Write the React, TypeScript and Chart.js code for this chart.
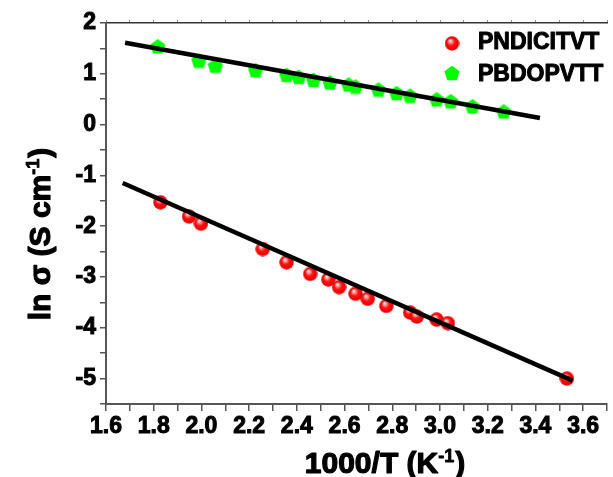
import { useEffect, useRef } from 'react';
import { Chart, registerables } from 'chart.js';

Chart.register(...registerables);

// ---- Data ----
const redLabel = 'PNDICITVT';
const redX = [1.828, 1.948, 1.998, 2.257, 2.357, 2.456, 2.532, 2.577, 2.646, 2.697, 2.775, 2.875, 2.903, 2.986, 3.033, 3.532];
const redY = [-1.53, -1.81, -1.95, -2.45, -2.71, -2.94, -3.05, -3.2, -3.33, -3.43, -3.57, -3.7, -3.78, -3.84, -3.91, -5.0];
const redFitX = [1.67, 3.556];
const redFitY = [-1.15, -5.04];

const greenLabel = 'PBDOPVTT';
const greenX = [1.817, 1.989, 2.058, 2.227, 2.357, 2.408, 2.47, 2.539, 2.617, 2.646, 2.742, 2.818, 2.875, 2.986, 3.045, 3.136, 3.267];
const greenY = [1.54, 1.26, 1.16, 1.07, 0.98, 0.94, 0.88, 0.83, 0.79, 0.75, 0.69, 0.62, 0.57, 0.5, 0.46, 0.36, 0.26];
const greenFitX = [1.68, 3.419];
const greenFitY = [1.61, 0.13];

const xMin = 1.6;
const xMax = 3.7;
const xStep = 0.1;
const yMin = -5.5;
const yMax = 2;
const yStep = 0.5;

const xTitleMain = '1000/T (K';
const xTitleSup = '-1';
const xTitleEnd = ')';
const yTitleMain = 'ln σ (S cm';
const yTitleSup = '-1';
const yTitleEnd = ')';

const FONT = '"Liberation Sans", Arial, sans-serif';

function makeSphere(d: number): HTMLCanvasElement {
  const c = document.createElement('canvas');
  c.width = d;
  c.height = d;
  const ctx = c.getContext('2d')!;
  const r = d / 2;
  const g = ctx.createRadialGradient(r - 2, r - 3, 0, r, r, r);
  g.addColorStop(0, '#ffffff');
  g.addColorStop(0.22, '#ff9a9a');
  g.addColorStop(0.5, '#ff1010');
  g.addColorStop(1, '#e00000');
  ctx.fillStyle = g;
  ctx.beginPath();
  ctx.arc(r, r, r - 0.3, 0, Math.PI * 2);
  ctx.fill();
  return c;
}

function makePentagon(d: number): HTMLCanvasElement {
  const c = document.createElement('canvas');
  c.width = d;
  c.height = d;
  const ctx = c.getContext('2d')!;
  const cx = d / 2;
  const cy = d / 2 + 0.8;
  const r = d / 2;
  ctx.fillStyle = '#00ff00';
  ctx.beginPath();
  for (let i = 0; i < 5; i++) {
    const a = -Math.PI / 2 + (i * 2 * Math.PI) / 5;
    const px = cx + r * Math.cos(a);
    const py = cy + r * Math.sin(a);
    if (i === 0) ctx.moveTo(px, py);
    else ctx.lineTo(px, py);
  }
  ctx.closePath();
  ctx.fill();
  return c;
}

function heavyText(ctx: CanvasRenderingContext2D, t: string, x: number, y: number, sw: number) {
  ctx.lineWidth = sw;
  ctx.strokeStyle = '#000';
  ctx.lineJoin = 'round';
  ctx.strokeText(t, x, y);
  ctx.fillText(t, x, y);
}

function drawTitle(ctx: CanvasRenderingContext2D, main: string, sup: string, end: string) {
  const big = `bold 30px ${FONT}`;
  const small = `bold 18px ${FONT}`;
  ctx.font = big;
  const w1 = ctx.measureText(main).width;
  const w3 = ctx.measureText(end).width;
  ctx.font = small;
  const w2 = ctx.measureText(sup).width;
  const total = w1 + w2 + w3 + 1;
  let x = -total / 2;
  ctx.textBaseline = 'alphabetic';
  ctx.textAlign = 'left';
  ctx.fillStyle = '#000';
  ctx.font = big;
  heavyText(ctx, main, x, 0, 1.2);
  x += w1;
  ctx.font = small;
  heavyText(ctx, sup, x, -11, 0.8);
  x += w2 + 1;
  ctx.font = big;
  heavyText(ctx, end, x, 0, 1.2);
}

const titlesPlugin = {
  id: 'axisTitles',
  afterDraw(chart: any) {
    const ctx = chart.ctx as CanvasRenderingContext2D;
    ctx.save();
    ctx.translate(385, 473);
    drawTitle(ctx, xTitleMain, xTitleSup, xTitleEnd);
    ctx.restore();
    ctx.save();
    ctx.translate(50, 234);
    ctx.rotate(-Math.PI / 2);
    drawTitle(ctx, yTitleMain, yTitleSup, yTitleEnd);
    ctx.restore();
  },
};

const legendPlugin = {
  id: 'insideLegend',
  afterDraw(chart: any) {
    const ctx = chart.ctx as CanvasRenderingContext2D;
    const items = chart.data.datasets.filter((d: any) => d.inLegend);
    ctx.save();
    ctx.font = `bold 23px ${FONT}`;
    ctx.fillStyle = '#000';
    ctx.textAlign = 'left';
    ctx.textBaseline = 'alphabetic';
    items.forEach((d: any, i: number) => {
      const cy = 43.5 + i * 29.5;
      const img = d.pointStyle as HTMLCanvasElement;
      ctx.drawImage(img, 452 - img.width / 2, cy - img.height / 2);
      heavyText(ctx, d.label, 478, 49.3 + i * 31.7, 1);
    });
    ctx.restore();
  },
};

export default function App() {
  const ref = useRef<HTMLCanvasElement | null>(null);

  useEffect(() => {
    if (!ref.current) return;
    const sphere = makeSphere(15);
    const pent = makePentagon(16);
    const tickFont = { family: FONT, size: 23, weight: 'bold' as const };
    const chart = new Chart(ref.current, {
      type: 'scatter',
      data: {
        datasets: [
          {
            label: 'fit-red',
            type: 'line',
            data: redFitX.map((x, i) => ({ x, y: redFitY[i] })),
            borderColor: '#000',
            borderWidth: 4.5,
            pointRadius: 0,
            showLine: true,
            fill: false,
            order: 0,
          } as any,
          {
            label: 'fit-green',
            type: 'line',
            data: greenFitX.map((x, i) => ({ x, y: greenFitY[i] })),
            borderColor: '#000',
            borderWidth: 4.5,
            pointRadius: 0,
            showLine: true,
            fill: false,
            order: 0,
          } as any,
          {
            label: redLabel,
            inLegend: true,
            data: redX.map((x, i) => ({ x, y: redY[i] })),
            pointStyle: sphere,
            pointRadius: 7,
            order: 1,
          } as any,
          {
            label: greenLabel,
            inLegend: true,
            data: greenX.map((x, i) => ({ x, y: greenY[i] })),
            pointStyle: pent,
            pointRadius: 7,
            order: 1,
          } as any,
        ],
      },
      options: {
        responsive: false,
        animation: false,
        devicePixelRatio: 1,
        layout: { padding: 0 },
        plugins: { legend: { display: false }, tooltip: { enabled: false } },
        scales: {
          x: {
            type: 'linear',
            position: 'bottom',
            min: xMin,
            max: xMax,
            afterFit: (s: any) => {
              s.height = 73;
            },
            ticks: {
              stepSize: xStep,
              autoSkip: false,
              maxRotation: 0,
              minRotation: 0,
              padding: 2,
              color: '#000',
              textStrokeColor: '#000',
              textStrokeWidth: 1,
              font: tickFont,
              callback: (v: any) => {
                const n = Math.round(Number(v) * 10);
                return n % 2 === 0 ? (n / 10).toFixed(1) : '';
              },
            },
            grid: { drawOnChartArea: false, drawTicks: true, tickLength: 7, color: '#555', lineWidth: 1.5 },
            border: { display: true, color: '#555', width: 2 },
          },
          x2: {
            type: 'linear',
            position: 'top',
            min: xMin,
            max: xMax,
            afterFit: (s: any) => {
              s.height = 23;
            },
            ticks: { display: false, stepSize: xStep, autoSkip: false },
            grid: { drawOnChartArea: false, drawTicks: true, tickLength: 3, color: '#888', lineWidth: 1 },
            border: { display: true, color: '#333', width: 1.5 },
          },
          y: {
            type: 'linear',
            position: 'left',
            min: yMin,
            max: yMax,
            afterFit: (s: any) => {
              s.width = 106;
            },
            ticks: {
              stepSize: yStep,
              autoSkip: false,
              padding: 4,
              color: '#000',
              textStrokeColor: '#000',
              textStrokeWidth: 1,
              font: tickFont,
              callback: (v: any) => {
                const n = Number(v);
                return Math.abs(n - Math.round(n)) < 1e-6 ? String(Math.round(n)) : '';
              },
            },
            grid: { drawOnChartArea: false, drawTicks: true, tickLength: 6, color: '#555', lineWidth: 1.5 },
            border: { display: true, color: '#555', width: 2 },
          },
        },
      },
      plugins: [titlesPlugin, legendPlugin],
    });
    return () => chart.destroy();
  }, []);

  return (
    <div style={{ position: 'fixed', left: 0, top: 0, width: 613, height: 477, overflow: 'hidden', background: '#fff' }}>
      <canvas ref={ref} width={615} height={477} style={{ width: 615, height: 477, display: 'block' }} />
    </div>
  );
}
